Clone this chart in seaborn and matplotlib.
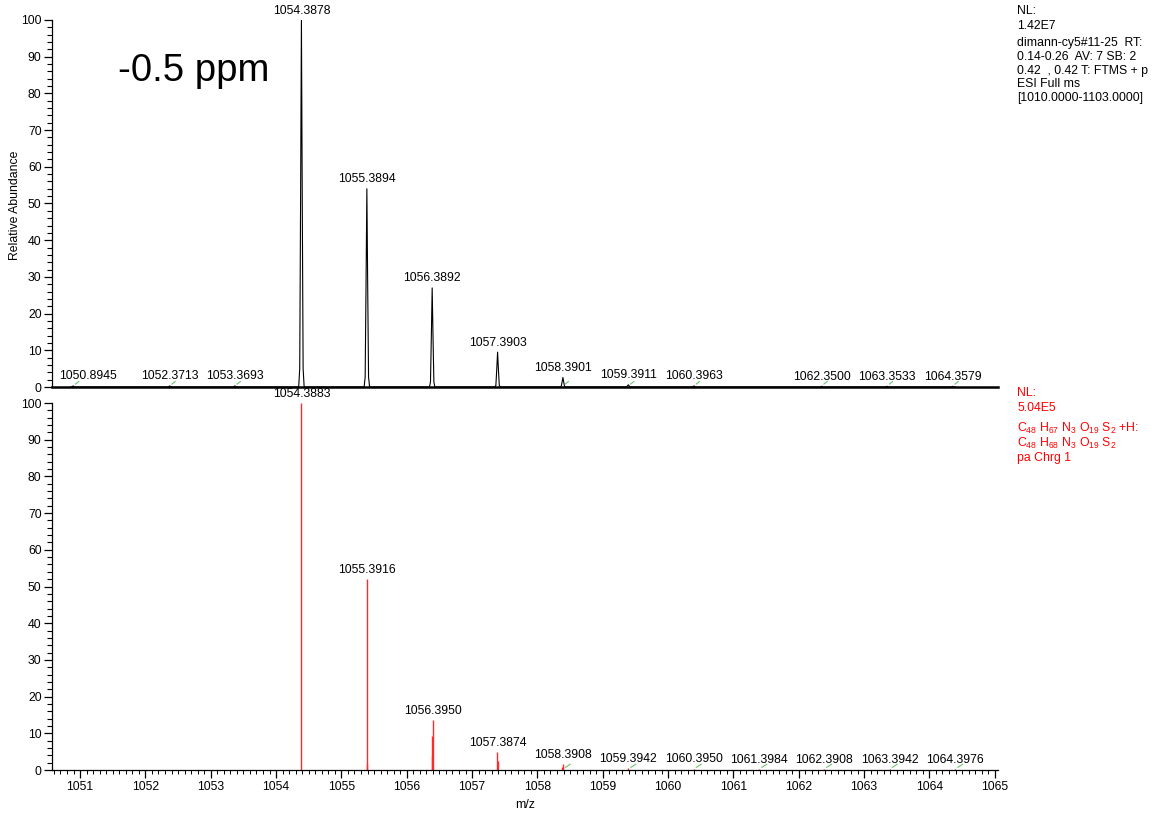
import numpy as np
import pandas as pd
import matplotlib
matplotlib.use("Agg")
import matplotlib.pyplot as plt
from matplotlib.ticker import MultipleLocator
import seaborn as sns

# ---------------- data ----------------
top_mz = [1050.8945, 1052.3713, 1053.3693, 1054.3878, 1055.3894, 1056.3892,
          1057.3903, 1058.3901, 1059.3911, 1060.3963, 1062.3500, 1063.3533, 1064.3579]
top_int = [0.3, 0.3, 0.3, 100, 54, 27, 9.5, 2.6, 0.6, 0.3, 0.2, 0.2, 0.2]

bot_mz = [1054.3883, 1055.3916, 1055.3855, 1056.3950, 1056.3841, 1056.3925,
          1057.3874, 1057.3984, 1058.3908, 1058.3800, 1059.3942, 1060.3950,
          1061.3984, 1062.3908, 1063.3942, 1064.3976]
bot_int = [100, 52, 1.5, 13.5, 9.3, 3.8, 4.9, 2.5, 1.6, 0.9, 0.5, 0.3,
           0.25, 0.2, 0.2, 0.2]
bot_labelled = [1054.3883, 1055.3916, 1056.3950, 1057.3874, 1058.3908, 1059.3942,
                1060.3950, 1061.3984, 1062.3908, 1063.3942, 1064.3976]

x_ticks = list(range(1051, 1066))
y_ticks = list(range(0, 101, 10))

top_info = ["NL:", "1.42E7", "dimann-cy5#11-25  RT:", "0.14-0.26  AV: 7 SB: 2",
            "0.42  , 0.42 T: FTMS + p", "ESI Full ms", "[1010.0000-1103.0000]"]
bot_info = ["NL:", "5.04E5",
            r"C$_{48}$ H$_{67}$ N$_{3}$ O$_{19}$ S$_{2}$ +H:",
            r"C$_{48}$ H$_{68}$ N$_{3}$ O$_{19}$ S$_{2}$",
            "pa Chrg 1"]
ppm_text = "-0.5 ppm"

# ---------------- style ----------------
sns.set_style("white")
plt.rcParams["font.family"] = ["Liberation Sans", "DejaVu Sans"]
plt.rcParams["mathtext.fontset"] = "custom"
plt.rcParams["mathtext.rm"] = "Liberation Sans"
plt.rcParams["mathtext.it"] = "Liberation Sans:italic"
plt.rcParams["mathtext.bf"] = "Liberation Sans:bold"
plt.rcParams["text.color"] = "black"
plt.rcParams["axes.labelcolor"] = "black"
plt.rcParams["xtick.color"] = "black"
plt.rcParams["ytick.color"] = "black"

FS = 8.8
XLIM = (1050.57, 1065.05)
RED = "#ff2a2a"
LEADER = "#6cc36c"

# profile shape for the measured spectrum (peak-shape style constants)
shape_off = [-0.042, -0.026, -0.013, 0.0, 0.013, 0.026, 0.042]
shape_frac = [0.0, 0.05, 0.5, 1.0, 0.5, 0.05, 0.0]
rows = []
for c, h in zip(top_mz, top_int):
    for o, f in zip(shape_off, shape_frac):
        rows.append((c + o, h * f))
prof = pd.DataFrame(rows, columns=["mz", "abundance"]).sort_values("mz")

fig = plt.figure(figsize=(11.55, 8.13), dpi=100)
L, W = 52 / 1155, (998 - 52) / 1155
H = 367 / 813
ax1 = fig.add_axes([L, 1 - 387 / 813, W, H])
ax2 = fig.add_axes([L, 1 - 770 / 813, W, H])

# ---- top: measured profile ----
sns.lineplot(data=prof, x="mz", y="abundance", ax=ax1, color="black",
             linewidth=0.8, estimator=None, sort=True)
for c, h in zip(top_mz, top_int):
    dx = 11 if c < 1051 else 0
    ax1.annotate(f"{c:.4f}", xy=(c, h), xytext=(dx, 2.5), textcoords="offset points",
                 ha="center", va="bottom", fontsize=FS, clip_on=False,
                 annotation_clip=False, color="black")
    if h < 3:
        ax1.annotate("", xy=(c, 0.3), xytext=(c + 0.12, 2.0),
                     arrowprops=dict(arrowstyle="-", color=LEADER, lw=0.8),
                     annotation_clip=False)

# ---- bottom: theoretical sticks ----
ax2.vlines(bot_mz, 0, bot_int, color=RED, linewidth=1.0)
for c, h in zip(bot_mz, bot_int):
    if c in bot_labelled:
        ax2.annotate(f"{c:.4f}", xy=(c, h), xytext=(0, 2.5), textcoords="offset points",
                     ha="center", va="bottom", fontsize=FS, clip_on=False,
                     annotation_clip=False, color="black")
        if h < 3:
            ax2.annotate("", xy=(c, 0.3), xytext=(c + 0.15, 2.0),
                         arrowprops=dict(arrowstyle="-", color=LEADER, lw=0.8),
                         annotation_clip=False)

for ax in (ax1, ax2):
    ax.set_xlim(*XLIM)
    ax.set_ylim(0, 100)
    ax.set_yticks(y_ticks)
    ax.yaxis.set_minor_locator(MultipleLocator(2))
    ax.set_ylabel("")
    ax.set_xlabel("")
    sns.despine(ax=ax, top=True, right=True)
    ax.spines["left"].set_linewidth(0.9)
    ax.spines["left"].set_color("black")
    ax.tick_params(axis="y", which="major", direction="out", length=6, width=0.9,
                   labelsize=FS, pad=1.5, colors="black", left=True)
    ax.tick_params(axis="y", which="minor", direction="out", length=3.5, width=0.8,
                   left=True, colors="black")
    ax.patch.set_alpha(0)

ax1.spines["bottom"].set_linewidth(1.8)
ax1.spines["bottom"].set_color("black")
ax1.set_xticks([])
ax1.tick_params(axis="x", which="both", bottom=False, labelbottom=False)

ax2.spines["bottom"].set_linewidth(0.9)
ax2.spines["bottom"].set_color("black")
ax2.set_xticks(x_ticks)
ax2.set_xticklabels([str(t) for t in x_ticks])
ax2.xaxis.set_minor_locator(MultipleLocator(0.1))
ax2.tick_params(axis="x", which="major", direction="out", length=6, width=0.9,
                labelsize=FS, pad=2, colors="black", bottom=True)
ax2.tick_params(axis="x", which="minor", direction="out", length=3, width=0.7,
                bottom=True, colors="black")
ax2.set_xlabel("m/z", fontsize=FS, labelpad=4, color="black")

fig.text(15 / 1155, 1 - 205 / 813, "Relative Abundance", rotation=90,
         ha="center", va="center", fontsize=FS, color="black")
fig.text(118 / 1155, 1 - 81 / 813, ppm_text, fontsize=27.5, ha="left",
         va="baseline", color="black")

top_y = [11, 26, 43, 57, 71, 84, 98]
for s, y in zip(top_info, top_y):
    fig.text(1017 / 1155, 1 - y / 813, s, fontsize=FS, ha="left", va="center",
             color="black")
bot_y = [393, 408, 428, 443, 458]
for s, y in zip(bot_info, bot_y):
    fig.text(1017 / 1155, 1 - y / 813, s, fontsize=FS, ha="left", va="center",
             color="#ff0000")

fig.savefig("out.png", dpi=100)
